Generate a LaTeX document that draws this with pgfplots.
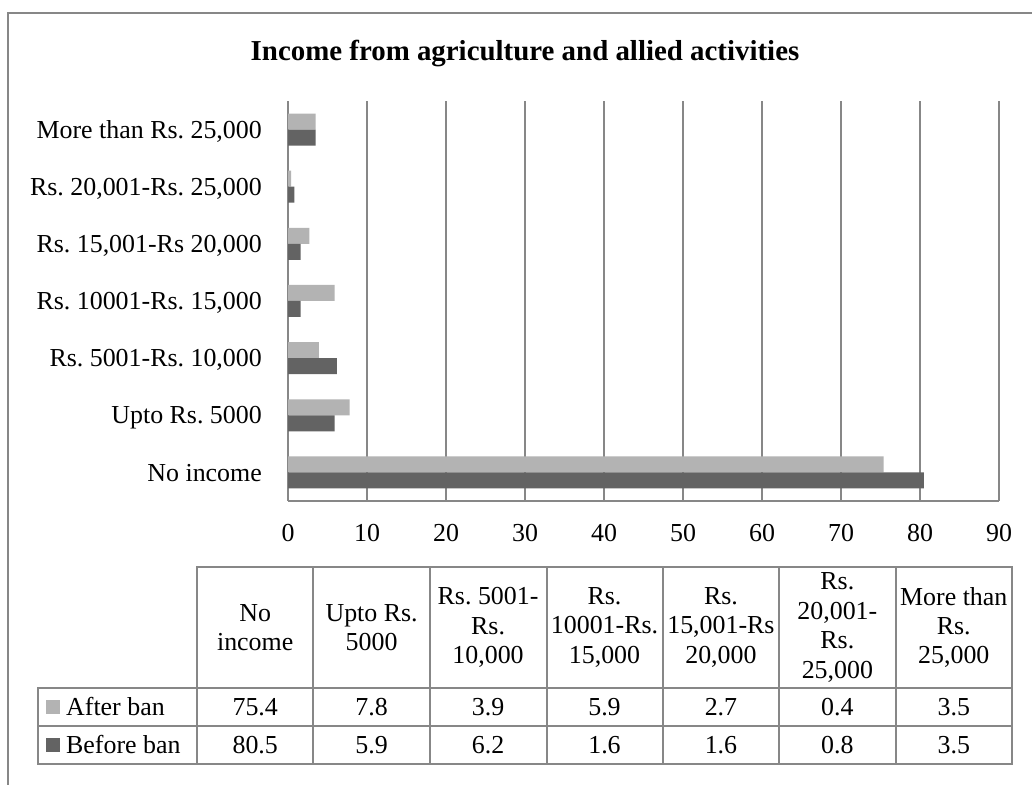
\documentclass[border=0pt]{standalone}
\usepackage{pgfplots}
\usepackage{pgfplotstable}
\pgfplotsset{compat=1.18}
\usepackage{fontspec}
\setmainfont{Liberation Serif}
\frenchspacing

\definecolor{lightbar}{HTML}{B3B3B3}
\definecolor{darkbar}{HTML}{636363}
\definecolor{linegray}{HTML}{878787}

% Share of households by income from agriculture, before and after the ban
\pgfplotstableread[col sep=semicolon]{
idx;label;after;before
0;No income;75.4;80.5
1;Upto Rs. 5000;7.8;5.9
2;Rs. 5001-Rs. 10,000;3.9;6.2
3;Rs. 10001-Rs. 15,000;5.9;1.6
4;Rs. 15,001-Rs 20,000;2.7;1.6
5;Rs. 20,001-Rs. 25,000;0.4;0.8
6;More than Rs. 25,000;3.5;3.5
}\incomedata

\newcommand{\bodyfont}{\fontsize{26}{29.6}\selectfont}

\begin{document}
\begin{tikzpicture}
\begin{scope}[x=1bp,y=1bp]
\fill[white] (0,0) rectangle (1032,785);
\useasboundingbox (0,0) rectangle (1032,785);

% outer frame
\draw[linegray, line width=1.5bp] (8,0) -- (8,772) -- (1040,772);

% title
\node[anchor=base, inner sep=0pt, font=\fontsize{29}{33}\selectfont\bfseries]
  at (525,724) {Income from agriculture and allied activities};
\end{scope}

\begin{axis}[
  at={(288bp,284bp)}, anchor=south west,
  scale only axis, width=711bp, height=400bp,
  xbar, bar width=16bp,
  xmin=0, xmax=90, ymin=-0.5, ymax=6.5,
  xtick={0,10,...,90},
  ytick={0,...,6},
  yticklabels from table={\incomedata}{label},
  /pgf/number format/assume math mode=true,
  axis lines*=left,
  axis line style={linegray, line width=2bp},
  major tick length=0pt,
  xmajorgrids,
  major grid style={linegray, line width=1.5bp},
  tick label style={font=\bodyfont, inner sep=0pt},
  xticklabel style={anchor=base, yshift=-41bp},
  yticklabel style={anchor=base east, xshift=-26bp, yshift=-8.6bp},
]
\addplot[fill=lightbar, draw=none, bar shift=8bp]
  table[x=after, y=idx]{\incomedata};
\addplot[fill=darkbar, draw=none, bar shift=-8bp]
  table[x=before, y=idx]{\incomedata};
\end{axis}

\begin{scope}[x=1bp,y=1bp]
% data table below the chart
\begin{scope}[linegray, line width=1.5bp]
  \draw (197,218) rectangle (1012,21);
  \draw (38,97) rectangle (197,21);
  \draw (38,59) -- (1012,59);
  \draw (197,97) -- (1012,97);
  \foreach \c in {313,430,547,663,779,896}
    \draw (\c,218) -- (\c,21);
\end{scope}

% column headings
\foreach \i/\t in {
  0/{No\\income},
  1/{Upto Rs.\\5000},
  2/{Rs. 5001-\\Rs.\\10,000},
  3/{Rs.\\10001-Rs.\\15,000},
  4/{Rs.\\15,001-Rs\\20,000},
  5/{Rs.\\20,001-\\Rs.\\25,000},
  6/{More than\\Rs.\\25,000}}
{
  \node[align=center, inner sep=0pt, font=\bodyfont]
    at ({197+116.43*(\i+0.5)},157.5) {\t};
}

% legend keys
\fill[lightbar] (46,71) rectangle (60,85);
\fill[darkbar] (46,33) rectangle (60,47);
\node[anchor=base west, inner sep=0pt, font=\bodyfont] at (66,69.5) {After ban};
\node[anchor=base west, inner sep=0pt, font=\bodyfont] at (66,31.5) {Before ban};

% values
\foreach \i in {0,...,6}{
  \pgfplotstablegetelem{\i}{after}\of\incomedata
  \node[anchor=base, inner sep=0pt, font=\bodyfont]
    at ({197+116.43*(\i+0.5)},69.5) {\pgfplotsretval};
  \pgfplotstablegetelem{\i}{before}\of\incomedata
  \node[anchor=base, inner sep=0pt, font=\bodyfont]
    at ({197+116.43*(\i+0.5)},31.5) {\pgfplotsretval};
}
\end{scope}
\end{tikzpicture}
\end{document}
